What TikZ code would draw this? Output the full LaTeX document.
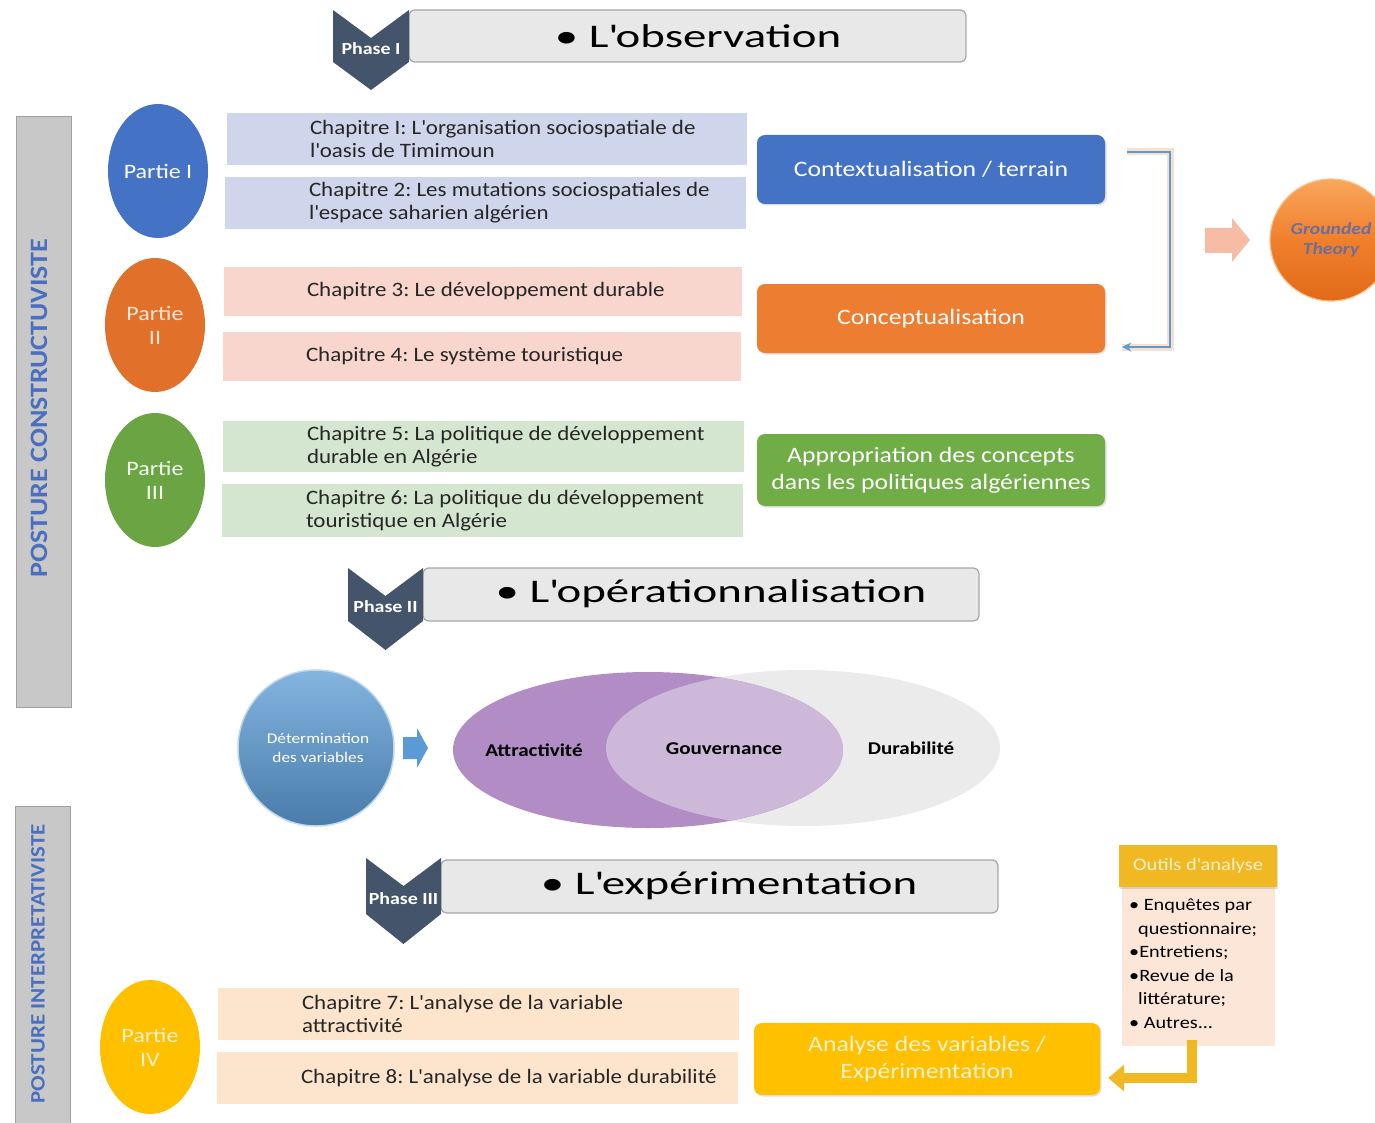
\documentclass[tikz,border=0pt]{standalone}
\usepackage{fontspec}
\setmainfont{Carlito}[FakeStretch=1.17]
\newfontfamily\chfont{Carlito}[FakeStretch=1.12]
\newfontfamily\bannerfont{Carlito}[FakeStretch=1.42]
\newfontfamily\postfont{Carlito}[FakeStretch=1.12]
\usetikzlibrary{shapes.geometric,arrows.meta,shadows}
\definecolor{chev}{HTML}{44546A}
\definecolor{bannerfill}{HTML}{E9E8E8}
\definecolor{bannerdraw}{HTML}{A6A6A6}
\definecolor{blueC}{HTML}{4472C4}
\definecolor{orangeC}{HTML}{ED7D31}
\definecolor{orangeP}{HTML}{E0702A}
\definecolor{greenC}{HTML}{70AD47}
\definecolor{yellowC}{HTML}{FFC000}
\definecolor{ch12}{HTML}{CFD5EA}
\definecolor{ch34}{HTML}{F8D6CE}
\definecolor{ch56}{HTML}{D5E6D0}
\definecolor{ch78}{HTML}{FDE5CD}
\definecolor{txt}{HTML}{262626}
\definecolor{postbar}{HTML}{C8C8C8}
\definecolor{postbord}{HTML}{A0A0A0}
\definecolor{postxt}{HTML}{4A6FC0}
\definecolor{brk}{HTML}{5B9BD5}
\definecolor{glow}{HTML}{F8CBAD}
\definecolor{pinkarrow}{HTML}{F6BCA6}
\definecolor{gtxt}{HTML}{6A6E9C}
\definecolor{purpA}{HTML}{B18CC5}
\definecolor{purpB}{HTML}{CDB8DA}
\definecolor{greyV}{HTML}{EBEBEB}
\definecolor{gold}{HTML}{F0B823}
\definecolor{peach}{HTML}{FCE6D8}
\definecolor{lightyel}{HTML}{FFF2CC}
\definecolor{gtop}{HTML}{F9A75C}
\definecolor{gmid}{HTML}{F07F2C}
\definecolor{gbot}{HTML}{E06A18}
\frenchspacing
\begin{document}
\begin{tikzpicture}[x=1pt,y=-1pt,
  banner/.style={draw=bannerdraw, line width=1.2pt, fill=bannerfill, rounded corners=6pt, inner sep=0pt},
  bannertxt/.style={font=\bannerfont\fontsize{33}{36}\selectfont, text=black, inner sep=0pt},
  chevtxt/.style={font=\bfseries\fontsize{17}{19}\selectfont, text=white, inner sep=0pt},
  chbox/.style={inner sep=0pt},
  chtext/.style={font=\chfont\fontsize{20.5}{23}\selectfont, text=txt, align=left, inner sep=0pt, anchor=west},
  partie/.style={ellipse, minimum width=100pt, minimum height=134pt, inner sep=0pt, align=center, font=\fontsize{20.5}{24}\selectfont},
  rbox/.style={rounded corners=8pt, minimum width=348pt, text=white, align=center, font=\fontsize{22}{27}\selectfont, inner sep=0pt, drop shadow={shadow xshift=1.5pt, shadow yshift=-1.5pt, opacity=0.25}},
  postbox/.style={fill=postbar, draw=postbord, line width=0.8pt, minimum width=55pt, inner sep=0pt},
  posttxt/.style={rotate=90, text=postxt, inner sep=0pt},
  venntxt/.style={font=\bfseries\fontsize{18}{20}\selectfont, text=black, inner sep=0pt}
]
\useasboundingbox[fill=white] (0,0) rectangle (1375,1123);

% ---------- posture bars
\node[postbox, minimum height=591pt] (pc) at (43.5,411.5) {};
\node[posttxt, font=\postfont\bfseries\fontsize{25}{27}\selectfont] (pct) at (39,408) {POSTURE CONSTRUCTUVISTE};
\node[postbox, minimum height=322pt] (pi) at (43,967) {};
\node[posttxt, font=\postfont\bfseries\fontsize{20.5}{23}\selectfont] (pit) at (38,964) {POSTURE INTERPRETATIVISTE};

% ---------- Phase I
\node[banner, minimum width=557pt, minimum height=52pt] (b1) at (687.5,36) {};
\node[bannertxt] (b1t) at (698,36) {• L\textquotesingle observation};
\fill[chev] (333,10) -- (371,38) -- (409,10) -- (409,62) -- (371,90) -- (333,62) -- cycle;
\node[chevtxt] (p1) at (371,49) {Phase I};

% ---------- Phase II
\node[banner, minimum width=556pt, minimum height=53pt] (b2) at (701,594.5) {};
\node[bannertxt] (b2t) at (711,594) {• L\textquotesingle opérationnalisation};
\fill[chev] (348,568) -- (385.5,596) -- (423,568) -- (423,621) -- (385.5,650) -- (348,621) -- cycle;
\node[chevtxt] (p2) at (385.5,607) {Phase II};

% ---------- Phase III
\node[banner, minimum width=557pt, minimum height=53pt] (b3) at (719.5,886.5) {};
\node[bannertxt] (b3t) at (729,886) {• L\textquotesingle expérimentation};
\fill[chev] (366,858) -- (403.5,886) -- (441,858) -- (441,914) -- (403.5,944) -- (366,914) -- cycle;
\node[chevtxt] (p3) at (403.5,899) {Phase III};

% ---------- Parties
\node[partie, fill=blueC, text=white] (P1) at (158,171) {Partie I};
\node[partie, fill=orangeP, text=peach] (P2) at (155,325) {Partie\\II};
\node[partie, fill=greenC!95!black, text=green!5!white] (P3) at (155,480) {Partie\\III};
\node[partie, fill=yellowC, text=lightyel] (P4) at (150,1047) {Partie\\IV};

% ---------- Chapters
\node[chbox, fill=ch12, minimum width=520pt, minimum height=52pt] (c1) at (487,139) {};
\node[chtext] (t1) at ([xshift=83pt]c1.west) {Chapitre I: L\textquotesingle organisation sociospatiale de\\l\textquotesingle oasis de Timimoun};
\node[chbox, fill=ch12, minimum width=521pt, minimum height=52pt] (c2) at (485.5,203) {};
\node[chtext] (t2) at ([xshift=84pt]c2.west) {Chapitre 2: Les mutations sociospatiales de\\l\textquotesingle espace saharien algérien};
\node[chbox, fill=ch34, minimum width=518pt, minimum height=49pt] (c3) at (483,291.5) {};
\node[chtext] (t3) at ([xshift=83pt]c3.west) {Chapitre 3: Le développement durable};
\node[chbox, fill=ch34, minimum width=518pt, minimum height=49pt] (c4) at (482,356.5) {};
\node[chtext] (t4) at ([xshift=83pt]c4.west) {Chapitre 4: Le système touristique};
\node[chbox, fill=ch56, minimum width=521pt, minimum height=51pt] (c5) at (483.5,446.5) {};
\node[chtext] (t5) at ([xshift=84pt]c5.west) {Chapitre 5: La politique de développement\\durable en Algérie};
\node[chbox, fill=ch56, minimum width=521pt, minimum height=53pt] (c6) at (482.5,510.5) {};
\node[chtext] (t6) at ([xshift=84pt]c6.west) {Chapitre 6: La politique du développement\\touristique en Algérie};
\node[chbox, fill=ch78, minimum width=521pt, minimum height=52pt] (c7) at (478.5,1014) {};
\node[chtext] (t7) at ([xshift=84pt]c7.west) {Chapitre 7: L\textquotesingle analyse de la variable\\attractivité};
\node[chbox, fill=ch78, minimum width=521pt, minimum height=52pt] (c8) at (477.5,1078) {};
\node[chtext] (t8) at ([xshift=84pt]c8.west) {Chapitre 8: L\textquotesingle analyse de la variable durabilité};

% ---------- right boxes
\node[rbox, fill=blueC, minimum height=69pt] (ctx) at (931,169.5) {Contextualisation / terrain};
\node[rbox, fill=orangeC, minimum height=69pt] (conc) at (931,318.5) {Conceptualisation};
\node[rbox, fill=greenC, minimum height=72pt] (appr) at (931,470) {Appropriation des concepts\\dans les politiques algériennes};
\node[rbox, fill=yellowC, text=lightyel, minimum width=346pt, minimum height=72pt] (anal) at (927,1059) {Analyse des variables /\\Expérimentation};

% ---------- bracket
\coordinate (bs) at ([xshift=22pt,yshift=17.5pt]ctx.east);
\coordinate (be) at ([xshift=17pt,yshift=-28.5pt]conc.east);
\draw[glow, line width=7pt, opacity=0.6] (bs) -- (bs -| 1170,0) -- (be -| 1170,0) -- (be);
\draw[brk, line width=2.6pt, -{Stealth[length=9pt,width=9pt]}] (bs) -- (bs -| 1170,0) -- (be -| 1170,0) -- (be);

% ---------- grounded theory
\fill[pinkarrow] (1205,228) -- (1232,228) -- (1232,218) -- (1250,240) -- (1232,262) -- (1232,253) -- (1205,253) -- cycle;
\node[circle, minimum size=122pt, inner sep=0pt, top color=gtop, bottom color=gbot, middle color=gmid, draw=gtop!70!white, line width=1.2pt] (gt) at (1331,240) {};
\node[font=\bfseries\itshape\fontsize{16.8}{20}\selectfont, text=gtxt, align=center, inner sep=0pt] (gtt) at (1331,240) {Grounded\\Theory};

% ---------- determination + venn
\node[circle, minimum size=156pt, inner sep=0pt, top color=brk!75!white, bottom color=brk!80!black, draw=brk!40!white, line width=1.5pt] (det) at (316,748) {};
\node[font=\fontsize{14.8}{19}\selectfont, text=white, align=center, inner sep=0pt] (dett) at (318,748) {Détermination\\des variables};
\fill[brk] (403,737) -- (417,737) -- (417,728) -- (428,748) -- (417,768) -- (417,759) -- (403,759) -- cycle;

\fill[greyV] (803,748) ellipse (197pt and 78pt);
\fill[purpA] (648,750) ellipse (195pt and 78pt);
\begin{scope}
  \clip (648,750) ellipse (195pt and 78pt);
  \fill[purpB] (803,748) ellipse (197pt and 78pt);
\end{scope}
\node[venntxt] (v1) at (534,750) {Attractivité};
\node[venntxt] (v2) at (724,749) {Gouvernance};
\node[venntxt] (v3) at (911,748) {Durabilité};

% ---------- outils d'analyse
\node[fill=peach, minimum width=153pt, minimum height=159pt, inner sep=0pt] (body) at (1198.5,966.5) {};
\node[fill=gold, minimum width=158pt, minimum height=42pt, inner sep=0pt, text=lightyel, font=\fontsize{17.5}{19}\selectfont, drop shadow={shadow xshift=1pt, shadow yshift=-1.5pt, opacity=0.25}] (head) at (1198,866) {Outils d\textquotesingle analyse};
\node[anchor=north west, align=left, inner sep=0pt, font=\fontsize{17.3}{23.5}\selectfont, text=black] (bt) at (1129,899) {• Enquêtes par\\\hspace*{9pt}questionnaire;\\•Entretiens;\\•Revue de la\\\hspace*{9pt}littérature;\\• Autres...};
\draw[gold, line width=10pt, -{Triangle[length=16pt,width=26pt]}] ([xshift=-7pt,yshift=6pt]body.south) |- ([xshift=8pt,yshift=-19pt]anal.east);
\end{tikzpicture}
\end{document}
